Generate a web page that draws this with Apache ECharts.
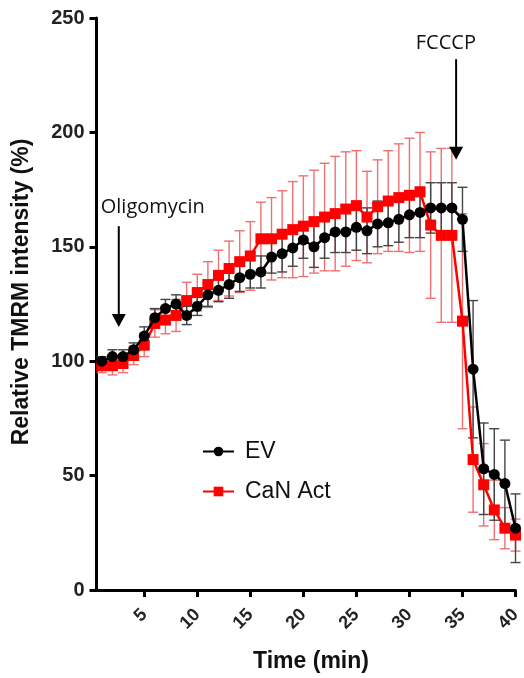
<!DOCTYPE html>
<html>
<head>
<meta charset="utf-8">
<script src="https://cdn.jsdelivr.net/npm/echarts@6/dist/echarts.min.js"></script>
<style>
html,body{margin:0;padding:0;background:#fff;}
#c{width:524px;height:678px;}
</style>
</head>
<body>
<div id="c"></div>
<script>
// ---- data ----
var times = [1,2,3,4,5,6,7,8,9,10,11,12,13,14,15,16,17,18,19,20,21,22,23,24,25,26,27,28,29,30,31,32,33,34,35,36,37,38,39,40];
var evValues = [100,102,102,105,111,119,123,125,120,124,129,131,133.5,136.5,138,139,145.5,147,149.5,153,150,154,156.5,156.5,158.5,157,160,160.5,162,164,165,167,167,167,162,96.5,53,50.5,46.5,27];
var evErr = [2,3,3,3,4,4,4,4,4,4,5,5,6,6,6,7,7,8,8,8,9,9,9,9,10,10,10,10,10,10,11,11,11,11,14,30,20,20,19,15];
var canValues = [98,98,99,102.5,107,116.5,118,120,126.5,130,133.5,137.5,140.5,143.5,146,153.5,153.5,155.5,157.5,159,161,163,164.5,166.5,168,163,167.5,170,171.5,172.5,174,159.5,155,155,117.5,57,46,35,27,24];
var canErr = [3,4,4,4,5,6,6,7,8,8,10,11,12,13.5,15,16,18,19,21,22,22.5,23.5,25,25,24,20,20.5,22,23.5,25,26,32,38,38,47,23,18,13,9,7];
var xTicks = [5,10,15,20,25,30,35,40];
var yTicks = [0,50,100,150,200,250];
var seriesNames = ['EV','CaN Act'];
var annotations = [
  {text:'Oligomycin', tx:0.9, ty:171.5, ax:2.6, ay0:159, ay1:115},
  {text:'FCCCP', tx:30.6, ty:243.5, ax:34.4, ay0:232, ay1:188}
];

function pairs(vals){ return times.map(function(t,i){ return [t, vals[i]]; }); }
function errData(vals, errs){ return times.map(function(t,i){ return [t, vals[i]-errs[i], vals[i]+errs[i]]; }); }

function errRender(color){
  return function(params, api){
    var x = api.value(0);
    var lo = api.coord([x, api.value(1)]);
    var hi = api.coord([x, api.value(2)]);
    var hw = 5;
    var st = {stroke: color, lineWidth: 1.4, fill: null};
    return {type:'group', children:[
      {type:'line', shape:{x1:lo[0], y1:lo[1], x2:hi[0], y2:hi[1]}, style:st},
      {type:'line', shape:{x1:lo[0]-hw, y1:lo[1], x2:lo[0]+hw, y2:lo[1]}, style:st},
      {type:'line', shape:{x1:hi[0]-hw, y1:hi[1], x2:hi[0]+hw, y2:hi[1]}, style:st}
    ]};
  };
}

var chart = echarts.init(document.getElementById('c'), null, {renderer:'canvas'});
var axisFont = 'Liberation Sans, Arial, sans-serif';
var option = {
  animation:false,
  backgroundColor:'#fff',
  grid:{left:96.5, right:1, top:18, bottom:85, containLabel:false},
  legend:{
    orient:'vertical', left:197, top:435, itemWidth:31, itemHeight:12, itemGap:17,
    data:seriesNames,
    textStyle:{fontFamily:axisFont, fontSize:23, color:'#111', padding:[0,0,0,6]}
  },
  xAxis:{
    type:'value', min:0.5, max:40,
    name:'Time (min)', nameLocation:'middle', nameGap:60,
    nameTextStyle:{fontFamily:axisFont, fontSize:23, fontWeight:'bold', color:'#111', padding:[0,0,0,10]},
    axisLine:{show:true, onZero:false, lineStyle:{color:'#000', width:3}},
    axisTick:{show:true, length:7, lineStyle:{color:'#000', width:3}, customValues:xTicks},
    axisLabel:{rotate:45, margin:22, fontFamily:axisFont, fontSize:18, fontWeight:'bold', color:'#222', customValues:xTicks},
    splitLine:{show:false}
  },
  yAxis:{
    type:'value', min:0, max:250, interval:50,
    name:'Relative TMRM intensity (%)', nameLocation:'middle', nameGap:63,
    nameTextStyle:{fontFamily:axisFont, fontSize:23, fontWeight:'bold', color:'#111', padding:[0,0,0,24]},
    axisLine:{show:true, lineStyle:{color:'#000', width:3}},
    axisTick:{show:true, length:7, lineStyle:{color:'#000', width:3}},
    axisLabel:{margin:12, fontFamily:axisFont, fontSize:20, fontWeight:'bold', color:'#222'},
    splitLine:{show:false}
  },
  series:[
    {type:'custom', name:'canErr', data:errData(canValues, canErr), renderItem:errRender('#f07070'), encode:{x:0,y:[1,2]}, z:1, silent:true},
    {type:'custom', name:'evErr', data:errData(evValues, evErr), renderItem:errRender('#444'), encode:{x:0,y:[1,2]}, z:2, silent:true},
    {type:'line', name:'CaN Act', data:pairs(canValues), symbol:'rect', symbolSize:11,
     lineStyle:{color:'#f00', width:2.5}, itemStyle:{color:'#f00'}, z:3},
    {type:'line', name:'EV', data:pairs(evValues), symbol:'circle', symbolSize:11,
     lineStyle:{color:'#000', width:2.5}, itemStyle:{color:'#000'}, z:4}
  ]
};
chart.setOption(option);

// annotations anchored in data coordinates
var g = [];
annotations.forEach(function(a){
  var tp = chart.convertToPixel({gridIndex:0}, [a.tx, a.ty]);
  var p0 = chart.convertToPixel({gridIndex:0}, [a.ax, a.ay0]);
  var p1 = chart.convertToPixel({gridIndex:0}, [a.ax, a.ay1]);
  g.push({type:'text', x:tp[0], y:tp[1], style:{text:a.text, fontFamily:'Open Sans, sans-serif', fontSize:20, fill:'#111', textVerticalAlign:'top'}, z:10});
  g.push({type:'line', shape:{x1:p0[0], y1:p0[1], x2:p1[0], y2:p1[1]-10}, style:{stroke:'#000', lineWidth:2}, z:10});
  g.push({type:'polygon', shape:{points:[[p1[0]-7,p1[1]-13],[p1[0]+7,p1[1]-13],[p1[0],p1[1]]]}, style:{fill:'#000'}, z:10});
});
chart.setOption({graphic:g});
</script>
</body>
</html>
